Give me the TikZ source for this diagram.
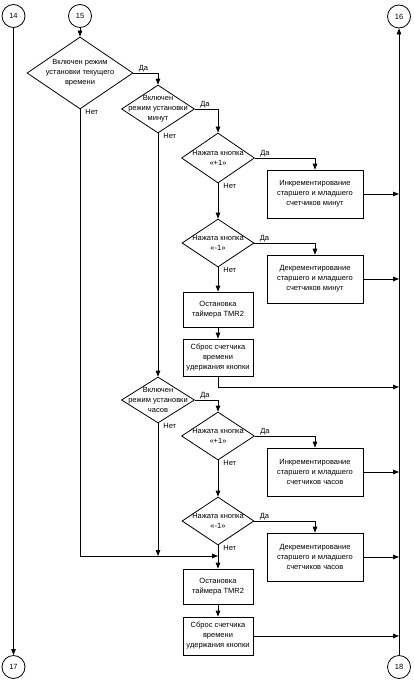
\documentclass[tikz,border=0pt]{standalone}
\usepackage{fontspec}
\setmainfont{Liberation Sans}
\usetikzlibrary{shapes.geometric,arrows.meta}
\begin{document}
\begin{tikzpicture}[x=1pt,y=-1pt, line width=0.8pt,
  every node/.style={font=\fontsize{7.5}{10}\selectfont},
  conn/.style={circle, draw, minimum size=23pt, inner sep=0pt},
  dia/.style={diamond, draw, inner sep=0pt},
  box/.style={rectangle, draw, inner sep=0pt, align=center},
  dlab/.style={align=center, inner sep=0pt},
  arr/.style={-{Triangle[length=6pt,width=4.5pt]}},
  yes/.style={anchor=south west, inner sep=1pt, xshift=4pt},
  no/.style={anchor=north west, inner sep=1pt, xshift=4pt, yshift=1pt}]
\useasboundingbox (0,0) rectangle (414,680);

% connectors (circles)
\node[conn] (c14) at (13.5,16) {14};
\node[conn] (c15) at (80,16) {15};
\node[conn] (c16) at (399,16.5) {16};
\node[conn] (c17) at (13.5,667) {17};
\node[conn] (c18) at (399,667) {18};

% decisions
\node[dia, minimum width=106pt, minimum height=72pt,
  label={[dlab]center:Включен режим\\установки текущего\\времени}] (d1) at (80,73) {};
\node[dia, minimum width=73pt, minimum height=48pt,
  label={[dlab]center:Включен\\режим установки\\минут}] (d2) at (158,109) {};
\node[dia, minimum width=73pt, minimum height=50pt,
  label={[dlab]center:Нажата кнопка\\«+1»}] (d3) at (218,158) {};
\node[dia, minimum width=72pt, minimum height=48pt,
  label={[dlab]center:Нажата кнопка\\«-1»}] (d4) at (218,243) {};
\node[dia, minimum width=73pt, minimum height=46pt,
  label={[dlab]center:Включен\\режим установки\\часов}] (d5) at (158,400) {};
\node[dia, minimum width=73pt, minimum height=48pt,
  label={[dlab]center:Нажата кнопка\\«+1»}] (d6) at (218,436) {};
\node[dia, minimum width=72pt, minimum height=48pt,
  label={[dlab]center:Нажата кнопка\\«-1»}] (d7) at (218,521) {};

% processes
\node[box, minimum width=96pt, minimum height=48pt] (b1) at (315,194) {Инкрементирование\\старшего и младшего\\счетчиков минут};
\node[box, minimum width=96pt, minimum height=48pt] (b2) at (315,279) {Декрементирование\\старшего и младшего\\счетчиков минут};
\node[box, minimum width=70pt, minimum height=35pt] (b3) at (218,309.5) {Остановка\\таймера TMR2};
\node[box, minimum width=70pt, minimum height=37pt] (b4) at (218,357.5) {Сброс счетчика\\времени\\удержания кнопки};
\node[box, minimum width=96pt, minimum height=48pt] (b5) at (315,472) {Инкрементирование\\старшего и младшего\\счетчиков часов};
\node[box, minimum width=96pt, minimum height=48pt] (b6) at (315,557) {Декрементирование\\старшего и младшего\\счетчиков часов};
\node[box, minimum width=70pt, minimum height=35pt] (b7) at (218,586.5) {Остановка\\таймера TMR2};
\node[box, minimum width=70pt, minimum height=38pt] (b8) at (218,636) {Сброс счетчика\\времени\\удержания кнопки};

\coordinate (j1) at (218,387);
\coordinate (j2) at (80,556);

% side lines
\draw[arr] (c14) -- (c17);
\draw[arr] (c18) -- (c16);

% flow
\draw[arr] (c15) -- (d1);
\draw[arr] (d1.east) -| (d2.north) node[pos=0, yes] (l1) {Да};
\draw[arr] (d1.south) -- (d1.south |- j2) -- (j2 -| d7.south);
\node[no] (n1) at (d1.south) {Нет};
\draw[arr] (d2.east) -| (d3.north) node[pos=0, yes] (l3) {Да};
\draw[arr] (d2.south) -- (d5.north);
\node[no] (n2) at (d2.south) {Нет};
\draw[arr] (d3.east) -| (b1.north) node[pos=0, yes] (l4) {Да};
\draw[arr] (d3.south) -- (d4.north);
\node[no] (n3) at (d3.south) {Нет};
\draw[arr] (b1.east) -- (b1.east -| c16.south);
\draw[arr] (d4.east) -| (b2.north) node[pos=0, yes] (l5) {Да};
\draw[arr] (d4.south) -- (b3.north);
\node[no] (n4) at (d4.south) {Нет};
\draw[arr] (b2.east) -- (b2.east -| c16.south);
\draw[arr] (b3.south) -- (b4.north);
\draw[arr] (b4.south) -- (j1) -- (j1 -| c16.south);
\draw[arr] (d5.east) -| (d6.north) node[pos=0, yes] (l6) {Да};
\draw[arr] (d5.south) -- (d5.south |- j2);
\node[no] (n5) at (d5.south) {Нет};
\draw[arr] (d6.east) -| (b5.north) node[pos=0, yes] (l7) {Да};
\draw[arr] (d6.south) -- (d7.north);
\node[no] (n6) at (d6.south) {Нет};
\draw[arr] (b5.east) -- (b5.east -| c16.south);
\draw[arr] (d7.east) -| (b6.north) node[pos=0, yes] (l8) {Да};
\draw[arr] (d7.south) -- (b7.north);
\node[no] (n7) at (d7.south) {Нет};
\draw[arr] (b6.east) -- (b6.east -| c16.south);
\draw[arr] (b7.south) -- (b8.north);
\draw[arr] (b8.east) -- (b8.east -| c16.south);
\end{tikzpicture}
\end{document}
